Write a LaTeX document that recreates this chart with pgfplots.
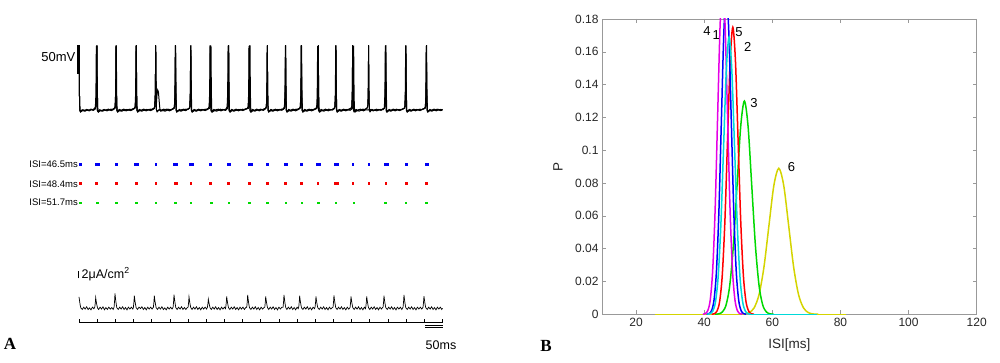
\documentclass[border=0pt]{standalone}
\usepackage{pgfplots}
\pgfplotsset{compat=1.18}
\usepackage{fontspec}
\setmainfont{Liberation Sans}
\newfontfamily\lserif{Liberation Serif}
\definecolor{cMag}{rgb}{0.9,0,0.9}
\definecolor{cBlue}{rgb}{0,0,1}
\definecolor{cCyan}{rgb}{0,0.85,0.85}
\definecolor{cRed}{rgb}{1,0,0}
\definecolor{cGreen}{rgb}{0,0.85,0}
\definecolor{cYel}{rgb}{0.83,0.83,0}
\definecolor{rBlue}{rgb}{0,0,0.95}
\definecolor{rRed}{rgb}{0.95,0,0}
\definecolor{rGreen}{rgb}{0,0.85,0}
\pgfplotsset{
  panelA/.style={scale only axis, width=363.5pt, xmin=0, xmax=1000, hide axis, clip=false},
}
\begin{document}
\begin{tikzpicture}
\useasboundingbox (0pt,0pt) rectangle (1000pt,362pt);

% ---------------- Panel A: voltage traces ----------------
\begin{axis}[panelA, at={(79pt,244pt)}, anchor=south west, height=79.8pt, ymin=-80, ymax=60]
\addplot[black, line width=2.6pt] coordinates {(-1,-2)(-1,48)};
\addplot[black, line width=1pt] coordinates {
(0,48)(0.6,5)(1.3,-40)(2.3,-66)(4,-69)(8,-67)(13,-66)(18,-67.5)(23,-65.5)(28,-66.5)(33,-65)(38,-66)(43,-64)
(47,-60)(48.3,-40)(49,0)(49.5,48)(50,5)(50.7,-40)(51.7,-66)(53.5,-69)(58,-66.5)(63,-67.5)(68,-65.5)(73,-66.5)(78,-65)(83,-66)(88,-64.5)(93,-65.5)(97,-63)
(99.3,-60)(100.6,-40)(101.3,0)(101.8,48)(102.3,5)(103,-40)(104,-66)(105.8,-69)(110,-66)(115,-67.5)(120,-65.5)(125,-67)(130,-65)(135,-66.5)(140,-64.5)(145,-66)(150,-64)(153,-63)
(155.1,-60)(156.4,-40)(157.1,0)(157.6,48)(158.1,5)(158.8,-40)(159.8,-66)(161.6,-69)(166,-66.5)(171,-67)(176,-65)(181,-66.5)(186,-65)(191,-66)(196,-64.5)(201,-65.5)(206,-63.5)
(208.5,-60)(209.8,-40)(210.5,0)(211,48)(211.5,5)(212.2,-40)(213.2,-66)(215,-69)(220,-66)(225,-67)(230,-65.5)(235,-66.5)(240,-64.5)(245,-66)(250,-65)(255,-65.5)(260,-63.5)
(262.5,-60)(263.8,-40)(264.5,0)(265,48)(265.5,5)(266.2,-40)(267.2,-66)(269,-69)(274,-66.5)(279,-67)(284,-65)(289,-66)(294,-64.5)(299,-65)(303.5,-63)
(305.5,-60)(306.8,-40)(307.5,0)(308,48)(308.5,5)(309.2,-40)(310.2,-66)(312,-69)(317,-66)(322,-67.5)(327,-65.5)(332,-66.5)(337,-65)(342,-66)(347,-64.5)(352,-65.5)(356,-63)
(357.9,-60)(359.2,-40)(359.9,0)(360.4,48)(360.9,5)(361.6,-40)(362.6,-66)(364.4,-69)(369,-66.5)(374,-67)(379,-65)(384,-66.5)(389,-64.5)(394,-66)(399,-65)(404,-65.5)(407.5,-63)
(409.3,-60)(410.6,-40)(411.3,0)(411.8,48)(412.3,5)(413,-40)(414,-66)(415.8,-69)(420,-66)(425,-67.5)(430,-65.5)(435,-66.5)(440,-65)(445,-66)(450,-64.5)(455,-65.5)(460,-64)(466,-63)
(467.9,-60)(469.2,-40)(469.9,0)(470.4,48)(470.9,5)(471.6,-40)(472.6,-66)(474.4,-69)(479,-66.5)(484,-67)(489,-65)(494,-66.5)(499,-64.5)(504,-65.5)(509,-64)(514,-63)
(515.5,-60)(516.8,-40)(517.5,0)(518,48)(518.5,5)(519.2,-40)(520.2,-66)(522,-69)(527,-66)(532,-67.5)(537,-65.5)(542,-66.5)(547,-65)(552,-66)(557,-64.5)(562,-65)(565,-63)
(566,-60)(567.3,-40)(568,0)(568.5,48)(569,5)(569.7,-40)(570.7,-66)(572.5,-69)(577,-66.5)(582,-67)(587,-65)(592,-66.5)(597,-64.5)(602,-65.5)(607,-63)
(608.9,-60)(610.2,-40)(610.9,0)(611.4,48)(611.9,5)(612.6,-40)(613.6,-66)(615.4,-69)(620,-66)(625,-67.5)(630,-65.5)(635,-66.5)(640,-65)(645,-66)(650,-64.5)(654,-63)
(655.7,-60)(657,-40)(657.7,0)(658.2,48)(658.7,5)(659.4,-40)(660.4,-66)(662.2,-69)(667,-66.5)(672,-67)(677,-65)(682,-66.5)(687,-64.5)(692,-66)(697,-65)(702,-63)
(704.4,-60)(705.7,-40)(706.4,0)(706.9,48)(707.4,5)(708.1,-40)(709.1,-66)(710.9,-69)(715,-66)(720,-67.5)(725,-65.5)(730,-66.5)(735,-65)(740,-66)(745,-64.5)(749,-63)
(750.3,-60)(751.6,-40)(752.3,0)(752.8,48)(753.3,5)(754,-40)(755,-66)(756.8,-69)(761,-66.5)(766,-67)(771,-65)(776,-66.5)(781,-64.5)(786,-65.5)(792,-63)
(794.2,-60)(795.5,-40)(796.2,0)(796.7,48)(797.2,5)(797.9,-40)(798.9,-66)(800.7,-69)(805,-66)(810,-67.5)(815,-65.5)(820,-66.5)(825,-65)(830,-66)(835,-64.5)(840,-63)
(841.9,-60)(843.2,-40)(843.9,0)(844.4,48)(844.9,5)(845.6,-40)(846.6,-66)(848.4,-69)(853,-66.5)(858,-67)(863,-65)(868,-66.5)(873,-64.5)(878,-66)(883,-65)(888,-65.5)(894,-63)
(896.9,-60)(898.2,-40)(898.9,0)(899.4,48)(899.9,5)(900.6,-40)(901.6,-66)(903.4,-69)(908,-66)(913,-67.5)(918,-65.5)(923,-66.5)(928,-65)(933,-66)(938,-64.5)(943,-65.5)(948,-64)(952,-63)
(953.8,-60)(955.1,-40)(955.8,0)(956.3,48)(956.8,5)(957.5,-40)(958.5,-66)(960.3,-69)(965,-66.5)(970,-67)(975,-65)(980,-66.5)(985,-64.5)(990,-66)(995,-65)(1000,-65.5)
};
\addplot[black, line width=1pt] coordinates {
(0,46)(0.6,5)(1.3,-40)(2.3,-66)(4,-68)(9,-65.5)(15,-67)(21,-65)(27,-66.5)(33,-64.5)(39,-65.5)(43,-63)
(45.1,-60)(46.4,-40)(47.1,0)(47.6,46)(48.1,5)(48.8,-40)(49.8,-66)(51.6,-68.5)(57,-65.5)(63,-67)(69,-65)(75,-66.5)(81,-64.5)(87,-66)(93,-64.5)(97.5,-63)
(99.3,-60)(100.6,-40)(101.3,0)(101.8,46)(102.3,5)(103,-40)(104,-66)(105.8,-68.5)(111,-65)(117,-66.5)(123,-64.5)(129,-66)(135,-65)(141,-66.5)(147,-64)(152,-63)
(154.3,-60)(155.6,-40)(156.3,0)(156.8,47)(157.3,5)(158,-40)(159,-66)(160.8,-68.5)(166,-65)(172,-66.5)(178,-64.5)(184,-66)(190,-65)(196,-66)(202,-64)(206.5,-63)
(208.5,-60)(209.8,-40)(210.5,0)(211,46)(211.5,5)(212.2,-40)(213.2,-66)(215,-68.5)(221,-65)(227,-66.5)(233,-64.5)(239,-66)(245,-64.5)(251,-66)(257,-64)(261.5,-63)
(263.5,-60)(264.8,-40)(265.5,0)(266,47)(266.5,5)(267.2,-40)(268.2,-66)(270,-68.5)(276,-65)(282,-66.5)(288,-64.5)(294,-66)(300,-64)(303,-63)
(304.7,-60)(306,-40)(306.7,0)(307.2,46)(307.7,5)(308.4,-40)(309.4,-66)(311.2,-68.5)(317,-65)(323,-66.5)(329,-64.5)(335,-66)(341,-65)(347,-66)(353,-64)(357,-63)
(358.7,-60)(360,-40)(360.7,0)(361.2,46)(361.7,5)(362.4,-40)(363.4,-66)(365.2,-68.5)(371,-65)(377,-66.5)(383,-64.5)(389,-66)(395,-65)(401,-66)(405.5,-63)
(407.5,-60)(408.8,-40)(409.5,0)(410,47)(410.5,5)(411.2,-40)(412.2,-66)(414,-68.5)(420,-65)(426,-66.5)(432,-64.5)(438,-66)(444,-65)(450,-66)(456,-64.5)(463,-63)
(465.2,-60)(466.5,-40)(467.2,0)(467.7,46)(468.2,5)(468.9,-40)(469.9,-66)(471.7,-68.5)(477,-65)(483,-66.5)(489,-64.5)(495,-66)(501,-65)(507,-66)(513.5,-63)
(515.5,-60)(516.8,-40)(517.5,0)(518,46)(518.5,5)(519.2,-40)(520.2,-66)(522,-68.5)(528,-65)(534,-66.5)(540,-64.5)(546,-66)(552,-65)(558,-65.5)(563,-63)
(565.1,-60)(566.4,-40)(567.1,0)(567.6,47)(568.1,5)(568.8,-40)(569.8,-66)(571.6,-68.5)(577,-65)(583,-66.5)(589,-64.5)(595,-66)(601,-64.5)(607,-63)
(608.9,-60)(610.2,-40)(610.9,0)(611.4,46)(611.9,5)(612.6,-40)(613.6,-66)(615.4,-68.5)(621,-65)(627,-66.5)(633,-64.5)(639,-66)(645,-65)(652,-63)
(653.9,-60)(655.2,-40)(655.9,0)(656.4,46)(656.9,5)(657.6,-40)(658.6,-66)(660.4,-68.5)(666,-65)(672,-66.5)(678,-64.5)(684,-66)(690,-65)(696,-65.5)(702,-63)
(704.4,-60)(705.7,-40)(706.4,0)(706.9,47)(707.4,5)(708.1,-40)(709.1,-66)(710.9,-68.5)(716,-65)(722,-66.5)(728,-64.5)(734,-66)(740,-65)(748,-63)
(750.3,-60)(751.6,-40)(752.3,0)(752.8,46)(753.3,5)(754,-40)(755,-66)(756.8,-68.5)(762,-65)(768,-66.5)(774,-64.5)(780,-66)(786,-65)(792,-63)
(794.2,-60)(795.5,-40)(796.2,0)(796.7,46)(797.2,5)(797.9,-40)(798.9,-66)(800.7,-68.5)(806,-65)(812,-66.5)(818,-64.5)(824,-66)(830,-65)(836,-65.5)(840,-63)
(841,-60)(842.3,-40)(843,0)(843.5,47)(844,5)(844.7,-40)(845.7,-66)(847.5,-68.5)(853,-65)(859,-66.5)(865,-64.5)(871,-66)(877,-65)(883,-66)(889,-64.5)(895,-63)
(896.9,-60)(898.2,-40)(898.9,0)(899.4,46)(899.9,5)(900.6,-40)(901.6,-66)(903.4,-68.5)(909,-65)(915,-66.5)(921,-64.5)(927,-66)(933,-65)(939,-66)(945,-64.5)(951,-63)
(952.9,-60)(954.2,-40)(954.9,0)(955.4,46)(955.9,5)(956.6,-40)(957.6,-66)(959.4,-68.5)(965,-65)(971,-66.5)(977,-64.5)(983,-66)(989,-65)(995,-66)(1000,-65)
};
\addplot[black, line width=1pt] coordinates {
(0,47)(0.6,5)(1.3,-40)(2.3,-67)(4,-69.5)(10,-67)(16,-68)(22,-66)(28,-67.5)(34,-65.5)(40,-66.5)(45,-64)
(47,-60)(48.3,-40)(49,0)(49.5,47)(50,5)(50.7,-40)(51.7,-67)(53.5,-69.5)(59,-67)(65,-68)(71,-66)(77,-67.5)(83,-65.5)(89,-67)(95,-65)(99.5,-63)
(100.1,-60)(101.4,-40)(102.1,0)(102.6,47)(103.1,5)(103.8,-40)(104.8,-67)(106.6,-69.5)(112,-67)(118,-68)(124,-66)(130,-67.5)(136,-65.5)(142,-67)(148,-65)(154,-63)
(155.1,-60)(156.4,-40)(157.1,0)(157.6,47)(158.1,5)(158.8,-40)(159.8,-67)(161.6,-69.5)(167,-67)(173,-68)(179,-66)(185,-67.5)(191,-65.5)(197,-67)(203,-65)(208,-63)
(208.5,-60)(209.8,-40)(210.5,0)(211,47)(211.5,5)(212.2,-40)(213,-55)(214.5,-40)(216.5,-31)(218.5,-34)(220.5,-50)(222.5,-64)(225,-68)(231,-67)(237,-68)(243,-66)(249,-67.5)(255,-65.5)(261.5,-63)
(262.5,-60)(263.8,-40)(264.5,0)(265,47)(265.5,5)(266.2,-40)(267.2,-67)(269,-69.5)(275,-67)(281,-68)(287,-66)(293,-67)(299,-65)(304,-63)
(304.7,-60)(306,-40)(306.7,0)(307.2,47)(307.7,5)(308.4,-40)(309.4,-67)(311.2,-69.5)(317,-67)(323,-68)(329,-66)(335,-67.5)(341,-65.5)(347,-67)(353,-65)(359.5,-63)
(360.6,-60)(361.9,-40)(362.6,0)(363.1,47)(363.6,5)(364.3,-40)(365.3,-67)(367.1,-69.5)(373,-67)(379,-68)(385,-66)(391,-67.5)(397,-65.5)(403,-66.5)(408.5,-63)
(409.3,-60)(410.6,-40)(411.3,0)(411.8,47)(412.3,5)(413,-40)(414,-67)(415.8,-69.5)(421,-67)(427,-68)(433,-66)(439,-67.5)(445,-65.5)(451,-67)(457,-65)(465,-63)
(465.9,-60)(467.2,-40)(467.9,0)(468.4,47)(468.9,5)(469.6,-40)(470.6,-67)(472.4,-69.5)(478,-67)(484,-68)(490,-66)(496,-67.5)(502,-65.5)(508,-66.5)(514,-63)
(515.5,-60)(516.8,-40)(517.5,0)(518,47)(518.5,5)(519.2,-40)(520.2,-67)(522,-69.5)(528,-67)(534,-68)(540,-66)(546,-67.5)(552,-65.5)(558,-66.5)(565,-63)
(566,-60)(567.3,-40)(568,0)(568.5,47)(569,5)(569.7,-40)(570.7,-67)(572.5,-69.5)(578,-67)(584,-68)(590,-66)(596,-67.5)(602,-65.5)(608.5,-63)
(609.9,-60)(611.2,-40)(611.9,0)(612.4,47)(612.9,5)(613.6,-40)(614.6,-67)(616.4,-69.5)(622,-67)(628,-68)(634,-66)(640,-67.5)(646,-65.5)(654.5,-63)
(655.7,-60)(657,-40)(657.7,0)(658.2,47)(658.7,5)(659.4,-40)(660.4,-67)(662.2,-69.5)(668,-67)(674,-68)(680,-66)(686,-67.5)(692,-65.5)(698,-66)(703,-63)
(703.7,-60)(705,-40)(705.7,0)(706.2,47)(706.7,5)(707.4,-40)(708.4,-67)(710.2,-69.5)(716,-67)(722,-68)(728,-66)(734,-67.5)(740,-65.5)(746,-66.5)(752,-63)
(753.1,-60)(754.4,-40)(755.1,0)(755.6,47)(756.1,5)(756.8,-40)(757.8,-67)(759.6,-69.5)(765,-67)(771,-68)(777,-66)(783,-67.5)(789,-65.5)(795,-66)(801,-65)(807,-67)(813,-66)(819,-67.5)(825,-65.5)(831,-66.5)(836,-64)(839.5,-63)
(840.1,-60)(841.4,-40)(842.1,0)(842.6,47)(843.1,5)(843.8,-40)(844.8,-67)(846.6,-69.5)(852,-67)(858,-68)(864,-66)(870,-67.5)(876,-65.5)(882,-67)(888,-65)(895.5,-63)
(896.1,-60)(897.4,-40)(898.1,0)(898.6,47)(899.1,5)(899.8,-40)(900.8,-67)(902.6,-69.5)(908,-67)(914,-68)(920,-66)(926,-67.5)(932,-65.5)(938,-67)(944,-65)(951.5,-63)
(952.9,-60)(954.2,-40)(954.9,0)(955.4,47)(955.9,5)(956.6,-40)(957.6,-67)(959.4,-69.5)(965,-67)(971,-68)(977,-66)(983,-67.5)(989,-65.5)(995,-67)(1000,-66)
};
\end{axis}

% ---------------- Panel A: raster ----------------
\begin{axis}[panelA, at={(79pt,140.1pt)}, anchor=south west, height=76.8pt, ymin=0, ymax=4]
\addplot[only marks, mark=square*, mark size=0.9pt, color=rBlue] coordinates {
(2.75,3)(46.8,3)(52.2,3)(101.8,3)(154.9,3)(160.3,3)(211,3)(262.3,3)(267.7,3)(305.3,3)(310.7,3)(360.4,3)
(409.1,3)(414.5,3)(467.7,3)(473.1,3)(518,3)(565.8,3)(571.2,3)(611.4,3)(655.5,3)(660.9,3)(704.2,3)(709.6,3)
(752.8,3)(796.7,3)(841.7,3)(847.1,3)(899.4,3)(953.6,3)(959,3)};
\addplot[only marks, mark=square*, mark size=0.9pt, color=rRed] coordinates {
(2.75,2)(47.6,2)(101.8,2)(156.8,2)(211,2)(263.3,2)(268.7,2)(307.2,2)(361.2,2)(410,2)(467.7,2)(518,2)
(567.6,2)(611.4,2)(656.4,2)(704.2,2)(709.6,2)(752.8,2)(796.7,2)(843.5,2)(899.4,2)(955.4,2)};
\addplot[only marks, mark=square*, mark size=0.9pt, color=rGreen] coordinates {
(2.75,1)(49.5,1)(102.6,1)(157.6,1)(211,1)(265,1)(307.2,1)(363.1,1)(411.8,1)(468.4,1)(518,1)
(568.5,1)(612.4,1)(658.2,1)(706.2,1)(755.6,1)(842.6,1)(898.6,1)(955.4,1)};
\end{axis}

% ---------------- Panel A: current ----------------
\begin{axis}[panelA, at={(79pt,30.9pt)}, anchor=south west, height=60.8pt, ymin=-6, ymax=10]
\addplot[black, line width=0.8pt] coordinates {(-2.75,7.9)(-2.75,9.9)};
\addplot[black, line width=0.7pt] coordinates {
(0,3.0)(1.5,2.0)(3,1.0)(5,0.1)(9,-0.3)(13,0.3)(17,-0.2)(21,0.4)(25,-0.3)(29,0.1)(33,-0.4)(37,0.3)(41,-0.1)
(43.4,0.3)(44.9,1.5)(45.9,2.8)(47.4,1.8)(48.9,1.0)(50.9,0.1)(54,-0.3)(58,0.3)(62,-0.2)(66,0.4)(70,-0.4)(74,0.2)(78,-0.3)(82,0.3)(86,-0.2)(90,0.2)(94,-0.3)
(96.5,0.3)(98,2.1)(99,3.9)(100.5,2.5)(102,1.4)(104,0.15)(108,-0.3)(112,0.3)(116,-0.2)(120,0.4)(124,-0.3)(128,0.2)(132,-0.4)(136,0.3)(140,-0.2)(144,0.3)(148,-0.2)
(149.7,0.3)(151.2,1.8)(152.2,3.3)(153.7,2.1)(155.2,1.2)(157.2,0.15)(161,-0.3)(165,0.3)(169,-0.1)(173,0.4)(177,-0.3)(181,0.2)(185,-0.4)(189,0.3)(193,-0.2)(197,0.3)(201,-0.2)
(204.7,0.3)(206.2,1.8)(207.2,3.3)(208.7,2.1)(210.2,1.2)(212.2,0.15)(216,-0.3)(220,0.3)(224,-0.2)(228,0.4)(232,-0.3)(236,0.1)(240,-0.4)(244,0.3)(248,-0.2)(252,0.3)(256,-0.2)
(258.9,0.3)(260.4,2.0)(261.4,3.6)(262.9,2.3)(264.4,1.3)(266.4,0.15)(270,-0.3)(274,0.3)(278,-0.2)(282,0.4)(286,-0.3)(290,0.2)(294,-0.3)(298,0.2)
(300.1,0.3)(301.6,1.6)(302.6,3.0)(304.1,2.0)(305.6,1.05)(307.6,0.15)(311,-0.3)(315,0.3)(319,-0.2)(323,0.4)(327,-0.3)(331,0.2)(335,-0.4)(339,0.3)(343,-0.2)(347,0.3)(351,-0.2)
(353.3,0.3)(354.8,1.3)(355.8,2.4)(357.3,1.6)(358.8,0.85)(360.8,0.1)(364,-0.3)(368,0.3)(372,-0.2)(376,0.4)(380,-0.3)(384,0.2)(388,-0.4)(392,0.3)(396,-0.2)(400,0.3)(403,-0.1)
(403.8,0.3)(405.3,1.7)(406.3,3.1)(407.8,2.0)(409.3,1.1)(411.3,0.15)(415,-0.3)(419,0.3)(423,-0.2)(427,0.4)(431,-0.3)(435,0.2)(439,-0.4)(443,0.3)(447,-0.2)(451,0.3)(455,-0.3)(459,0.2)
(461.5,0.3)(463,1.9)(464,3.5)(465.5,2.3)(467,1.2)(469,0.15)(473,-0.3)(477,0.3)(481,-0.2)(485,0.4)(489,-0.3)(493,0.2)(497,-0.4)(501,0.3)(505,-0.2)(509,0.2)
(511.1,0.3)(512.6,1.7)(513.6,3.1)(515.1,2.0)(516.6,1.1)(518.6,0.15)(522,-0.3)(526,0.3)(530,-0.2)(534,0.4)(538,-0.3)(542,0.2)(546,-0.4)(550,0.3)(554,-0.2)(558,0.3)
(561.4,0.3)(562.9,1.9)(563.9,3.5)(565.4,2.3)(566.9,1.2)(568.9,0.15)(572,-0.3)(576,0.3)(580,-0.2)(584,0.4)(588,-0.3)(592,0.2)(596,-0.4)(600,0.3)(603,-0.1)
(604.5,0.3)(606,1.8)(607,3.3)(608.5,2.1)(610,1.2)(612,0.15)(616,-0.3)(620,0.3)(624,-0.2)(628,0.4)(632,-0.3)(636,0.2)(640,-0.4)(644,0.3)(648,-0.1)
(649.4,0.3)(650.9,1.7)(651.9,3.1)(653.4,2.0)(654.9,1.1)(656.9,0.15)(661,-0.3)(665,0.3)(669,-0.2)(673,0.4)(677,-0.3)(681,0.2)(685,-0.4)(689,0.3)(693,-0.2)(697,0.2)
(698.9,0.3)(700.4,1.9)(701.4,3.4)(702.9,2.2)(704.4,1.2)(706.4,0.15)(710,-0.3)(714,0.3)(718,-0.2)(722,0.4)(726,-0.3)(730,0.2)(734,-0.4)(738,0.3)(742,-0.2)(745,0.1)
(745.8,0.3)(747.3,1.7)(748.3,3.1)(749.8,2.0)(751.3,1.1)(753.3,0.15)(757,-0.3)(761,0.3)(765,-0.2)(769,0.4)(773,-0.3)(777,0.2)(781,-0.4)(785,0.3)(788,-0.1)
(789,0.3)(790.5,1.7)(791.5,3.1)(793,2.0)(794.5,1.1)(796.5,0.15)(800,-0.3)(804,0.3)(808,-0.2)(812,0.4)(816,-0.3)(820,0.2)(824,-0.4)(828,0.3)(832,-0.2)(835,0.2)
(836.5,0.3)(838,1.8)(839,3.3)(840.5,2.1)(842,1.2)(844,0.15)(848,-0.3)(852,0.3)(856,-0.2)(860,0.4)(864,-0.3)(868,0.2)(872,-0.4)(876,0.3)(880,-0.2)(884,0.3)(888,-0.3)
(891.5,0.3)(893,1.9)(894,3.5)(895.5,2.3)(897,1.2)(899,0.15)(903,-0.3)(907,0.3)(911,-0.2)(915,0.4)(919,-0.3)(923,0.2)(927,-0.4)(931,0.3)(935,-0.2)(939,0.3)(943,-0.2)
(946.5,0.3)(948,1.8)(949,3.2)(950.5,2.1)(952,1.1)(954,0.15)(958,-0.3)(962,0.3)(966,-0.2)(970,0.4)(974,-0.3)(978,0.2)(982,-0.4)(986,0.3)(990,-0.2)(994,0.3)(998,-0.3)(1000,0)
};
\end{axis}

% ---------------- Panel A: time axis ----------------
\begin{axis}[scale only axis, width=363.5pt, height=10pt, at={(79pt,39.7pt)}, anchor=south west,
  xmin=0, xmax=1000, ymin=0, ymax=1, clip=false,
  axis x line*=bottom, axis y line=none,
  xtick={0,50,...,1000}, xticklabels={}, tick align=inside, major tick length=3pt,
  axis line style={black, line width=0.7pt}, tick style={black, line width=0.7pt}]
\addplot[black, line width=0.7pt] coordinates {(952,-0.3)(1000,-0.3)};
\addplot[black, line width=0.7pt] coordinates {(952,-0.55)(1000,-0.55)};
\end{axis}

% text of panel A
\node[anchor=east, inner sep=0pt, font=\fontsize{13}{15}\selectfont] at (75.5pt,305pt) {50mV};
\node[anchor=east, inner sep=0pt, font=\fontsize{9.5}{11}\selectfont] at (78pt,197.7pt) {ISI=46.5ms};
\node[anchor=east, inner sep=0pt, font=\fontsize{9.5}{11}\selectfont] at (78pt,178pt) {ISI=48.4ms};
\node[anchor=east, inner sep=0pt, font=\fontsize{9.5}{11}\selectfont] at (78pt,159.3pt) {ISI=51.7ms};
\node[anchor=west, inner sep=0pt, font=\fontsize{12.5}{14}\selectfont] at (81.5pt,88pt) {2μA/cm\textsuperscript{2}};
\node[inner sep=0pt, font=\fontsize{12.5}{14}\selectfont] at (441pt,17pt) {50ms};
\node[inner sep=0pt, font=\fontsize{17}{19}\selectfont\lserif\bfseries] at (10pt,18pt) {A};
\node[inner sep=0pt, font=\fontsize{17}{19}\selectfont\lserif\bfseries] at (546pt,16pt) {B};

% ---------------- Panel B ----------------
\begin{axis}[scale only axis, at={(602pt,47.7pt)}, anchor=south west, width=374.7pt, height=295.3pt,
  xmin=10, xmax=120, ymin=0, ymax=0.18,
  xtick={20,40,60,80,100,120},
  ytick={0,0.02,0.04,0.06,0.08,0.1,0.12,0.14,0.16,0.18},
  yticklabels={0,0.02,0.04,0.06,0.08,0.1,0.12,0.14,0.16,0.18},
  /pgf/number format/assume math mode=true,
  tick align=inside, major tick length=4pt,
  axis line style={black!40, line width=0.6pt}, tick style={black!40, line width=0.6pt},
  ticklabel style={font=\fontsize{12}{14}\selectfont, text=black!85},
  xlabel={ISI[ms]}, ylabel={P},
  xlabel style={at={(axis description cs:0.5,0)}, anchor=center, yshift=-31pt, font=\fontsize{13.5}{15}\selectfont, text=black!85},
  ylabel style={at={(axis description cs:-0.1174,0.5)}, anchor=center, font=\fontsize{13.5}{15}\selectfont, text=black!85},
  every axis plot/.append style={line width=1.5pt}]
% 6 (yellow)
\addplot[cYel, smooth] coordinates {(50.3,0.00003)(51.75,0.0002)(53.2,0.00099)(54.65,0.00391)(56.1,0.012)(57.55,0.0289)(59.0,0.054)(60.45,0.0785)(61.9,0.089)(63.35,0.0785)(64.8,0.054)(66.25,0.0289)(67.7,0.012)(69.15,0.00391)(70.6,0.00099)(72.05,0.0002)(73.5,0.00003)};
\addplot[cYel] coordinates {(25.6,0)(50.3,0)};
\addplot[cYel] coordinates {(73.5,0)(81.5,0)};
% 3 (green)
\addplot[cGreen, smooth] coordinates {(43.2,0.00004)(44.275,0.00029)(45.35,0.00144)(46.425,0.00571)(47.5,0.0176)(48.575,0.0422)(49.65,0.0788)(50.725,0.1147)(51.8,0.13)(52.875,0.1147)(53.95,0.0788)(55.025,0.0422)(56.1,0.0176)(57.175,0.00571)(58.25,0.00144)(59.325,0.00029)(60.4,0.00004)};
% 2 (red)
\addplot[cRed, smooth] coordinates {(42.2,0.00006)(42.975,0.00039)(43.75,0.00194)(44.525,0.00768)(45.3,0.0237)(46.075,0.0568)(46.85,0.1061)(47.625,0.1544)(48.4,0.175)(49.175,0.1544)(49.95,0.1061)(50.725,0.0568)(51.5,0.0237)(52.275,0.00768)(53.05,0.00194)(53.825,0.00039)(54.6,0.00006)};
% 1 (blue)
\addplot[cBlue, smooth] coordinates {(40.7,0.00007)(41.425,0.00043)(42.15,0.00216)(42.875,0.00856)(43.6,0.0264)(44.325,0.0633)(45.05,0.1183)(45.775,0.1721)(46.5,0.195)(47.225,0.1721)(47.95,0.1183)(48.675,0.0633)(49.4,0.0264)(50.125,0.00856)(50.85,0.00216)(51.575,0.00043)(52.3,0.00007)};
% 4 (magenta)
\addplot[cMag, smooth] coordinates {(39.6,0.00007)(40.325,0.00044)(41.05,0.00222)(41.775,0.00878)(42.5,0.0271)(43.225,0.0649)(43.95,0.1213)(44.675,0.1765)(45.4,0.20)(46.125,0.1765)(46.85,0.1213)(47.575,0.0649)(48.3,0.0271)(49.025,0.00878)(49.75,0.00222)(50.475,0.00044)(51.2,0.00007)};
% 5 (cyan)
\addplot[cCyan, smooth] coordinates {(40.9,0.00006)(41.7,0.00037)(42.5,0.00188)(43.3,0.00742)(44.1,0.0229)(44.9,0.0549)(45.7,0.1025)(46.5,0.1491)(47.3,0.169)(48.1,0.1491)(48.9,0.1025)(49.7,0.0549)(50.5,0.0229)(51.3,0.00742)(52.1,0.00188)(52.9,0.00037)(53.7,0.00006)};
\addplot[cCyan] coordinates {(53.7,0)(73.2,0)};
\node[font=\fontsize{13}{15}\selectfont] at (axis cs:40.8,0.1725) {4};
\node[font=\fontsize{13}{15}\selectfont] at (axis cs:43.5,0.1705) {1};
\node[font=\fontsize{13}{15}\selectfont] at (axis cs:50.2,0.172) {5};
\node[font=\fontsize{13}{15}\selectfont] at (axis cs:52.8,0.163) {2};
\node[font=\fontsize{13}{15}\selectfont] at (axis cs:54.6,0.1285) {3};
\node[font=\fontsize{13}{15}\selectfont] at (axis cs:65.6,0.090) {6};
\end{axis}
\end{tikzpicture}
\end{document}
